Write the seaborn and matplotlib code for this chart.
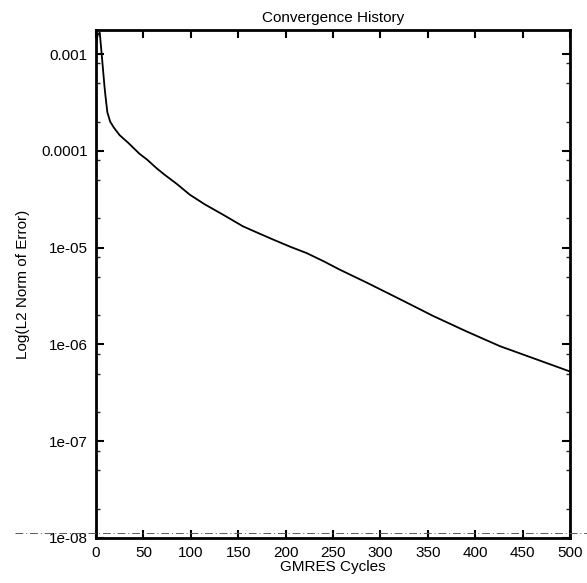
import matplotlib
matplotlib.use("Agg")
import matplotlib.pyplot as plt
from matplotlib.lines import Line2D
from matplotlib.ticker import FixedLocator, FixedFormatter, LogLocator, NullFormatter
import seaborn as sns
import pandas as pd

cycles = [0, 2, 4, 6, 9, 10, 12, 15, 19, 25, 34, 46, 54, 64, 73, 85, 99, 115,
          134, 155, 170, 187, 205, 222, 240, 257, 286, 321, 356, 391, 426, 463, 500]
error = [1.30e-3, 1.60e-3, 1.66e-3, 1.0e-3, 4.6e-4, 3.7e-4, 2.5e-4, 2.0e-4,
         1.73e-4, 1.45e-4, 1.21e-4, 9.3e-5, 8.1e-5, 6.6e-5, 5.6e-5, 4.57e-5,
         3.52e-5, 2.79e-5, 2.19e-5, 1.66e-5, 1.43e-5, 1.21e-5, 1.02e-5, 8.8e-6,
         7.24e-6, 5.93e-6, 4.33e-6, 2.92e-6, 1.96e-6, 1.36e-6, 9.6e-7, 7.1e-7,
         5.25e-7]

x_ticks = [0, 50, 100, 150, 200, 250, 300, 350, 400, 450, 500]
y_ticks = [1e-8, 1e-7, 1e-6, 1e-5, 1e-4, 1e-3]
y_labels = ["1e-08", "1e-07", "1e-06", "1e-05", "0.0001", "0.001"]

sns.set_style("ticks")
plt.rcParams["font.family"] = ["Liberation Sans", "DejaVu Sans"]
plt.rcParams["text.color"] = "black"
plt.rcParams["axes.labelcolor"] = "black"

fig = plt.figure(figsize=(5.87, 5.83), dpi=100)
ax = fig.add_axes([0.1635, 0.0772, 0.8075, 0.8713])

df = pd.DataFrame({"cycles": cycles, "error": error})
sns.lineplot(data=df, x="cycles", y="error", ax=ax, color="black", linewidth=1.3)

ax.set_yscale("log")
ax.set_xlim(0, 500)
ax.set_ylim(1.0e-8, 1.77e-3)

ax.xaxis.set_major_locator(FixedLocator(x_ticks))
ax.set_xticklabels([str(t) for t in x_ticks])
ax.yaxis.set_major_locator(FixedLocator(y_ticks))
ax.yaxis.set_major_formatter(FixedFormatter(y_labels))
ax.yaxis.set_minor_locator(LogLocator(base=10, subs=[2, 5, 8]))
ax.yaxis.set_minor_formatter(NullFormatter())

ax.tick_params(axis="both", which="major", direction="in", length=6, width=1.5,
               top=True, right=True, labelsize=11, colors="black", pad=6)
ax.tick_params(axis="y", which="minor", direction="in", length=3, width=1.0,
               left=True, right=True)
for s in ax.spines.values():
    s.set_visible(True)
    s.set_linewidth(2.0)
    s.set_color("black")

ax.set_title("Convergence History", fontsize=11, pad=6, color="black")
ax.set_xlabel("GMRES Cycles", fontsize=11, labelpad=0)
ax.set_ylabel("Log(L2 Norm of Error)", fontsize=11, labelpad=8)

# faint dash-dot line across the figure near the bottom axis
fig.add_artist(Line2D([0.025, 1.0], [0.0858, 0.0858], transform=fig.transFigure,
                      color="0.35", linewidth=0.7, linestyle=(0, (8, 3, 1, 3))))

fig.savefig("out.png", dpi=100)
